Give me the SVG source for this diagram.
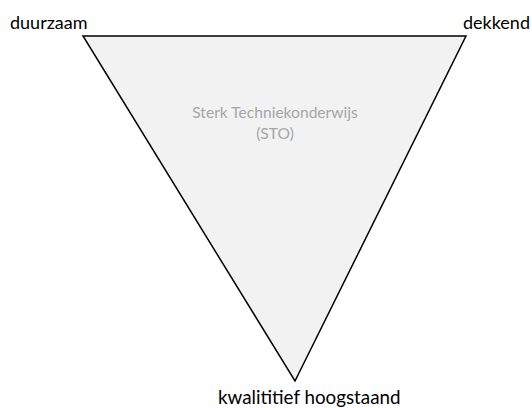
<svg xmlns="http://www.w3.org/2000/svg" width="532" height="408" viewBox="0 0 532 408">
<style>
.lbl{font-family:Lato,"Open Sans","Liberation Sans",sans-serif;font-size:18px;fill:#000}
.ctr{font-family:Lato,"Open Sans","Liberation Sans",sans-serif;font-size:15.6px;fill:#a6a6a6;text-anchor:middle}
</style>
<rect width="532" height="408" fill="#fff"/>
<g id="triangle">
<polygon points="83,36 466,36 295,381" fill="#f2f2f2" stroke="#000" stroke-width="1.5" stroke-linejoin="miter"/>
<text class="ctr" x="275" y="118">Sterk Techniekonderwijs</text>
<text class="ctr" x="275" y="139">(STO)</text>
</g>
<g id="duurzaam"><text class="lbl" x="10" y="29">duurzaam</text></g>
<g id="dekkend"><text class="lbl" x="463" y="29">dekkend</text></g>
<g id="kwalitatief"><text class="lbl" x="218" y="404" style="font-size:18.8px">kwalititief hoogstaand</text></g>
</svg>
